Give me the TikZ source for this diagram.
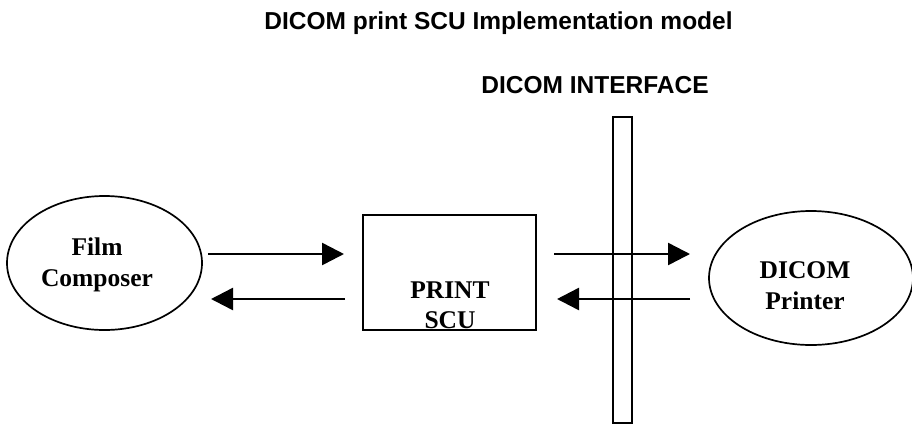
\documentclass[tikz,border=0pt]{standalone}
\usepackage{fontspec}
\setmainfont{Liberation Serif}
\setsansfont{Liberation Sans}
\usetikzlibrary{shapes.geometric,arrows.meta}
\begin{document}
\begin{tikzpicture}[x=1pt,y=-1pt,
  ell/.style={draw, line width=1.7pt, ellipse, inner sep=0pt},
  boxst/.style={draw, line width=1.7pt, inner sep=0pt},
  lbl/.style={font=\fontsize{25.5}{31}\selectfont\bfseries, align=center, inner sep=0pt},
  ttl/.style={font=\fontsize{24.5}{28}\selectfont\sffamily\bfseries, inner sep=0pt},
  arr/.style={line width=2.5pt, -{Triangle[length=22pt,width=22pt]}}
]
\useasboundingbox (0,0) rectangle (912,424);
% title texts
\node[ttl, anchor=base] (title) at (498.5,29) {DICOM print SCU Implementation model};
\node[ttl, anchor=base] (iface) at (595,93) {DICOM INTERFACE};
% shapes
\node[ell, minimum width=195pt, minimum height=134pt] (fc) at (104.5,263) {};
\node[lbl] (fct) at (97,264.5) {Film\\Composer};
\node[boxst, minimum width=173pt, minimum height=115pt] (scu) at (449.5,272.5) {};
\node[lbl, font=\fontsize{25.5}{30}\selectfont\bfseries] (scut) at (450,305) {PRINT\\SCU};
\node[ell, minimum width=204pt, minimum height=134pt] (dp) at (811,278) {};
\node[lbl] (dpt) at (805,286) {DICOM\\Printer};
\node[boxst, fill=white, minimum width=19pt, minimum height=306pt] (bar) at (622.5,270) {};
% arrow end points
\coordinate (a1s) at (208,254); \coordinate (a1e) at (344,254);
\coordinate (a2s) at (345,299); \coordinate (a2e) at (211,299);
\coordinate (a3s) at (554,254); \coordinate (a3e) at (690,254);
\coordinate (a4s) at (690,299); \coordinate (a4e) at (557,299);
\draw[arr] (a1s) -- (a1e);
\draw[arr] (a2s) -- (a2e);
\draw[arr] (a3s) -- (a3e);
\draw[arr] (a4s) -- (a4e);
\end{tikzpicture}
\end{document}
